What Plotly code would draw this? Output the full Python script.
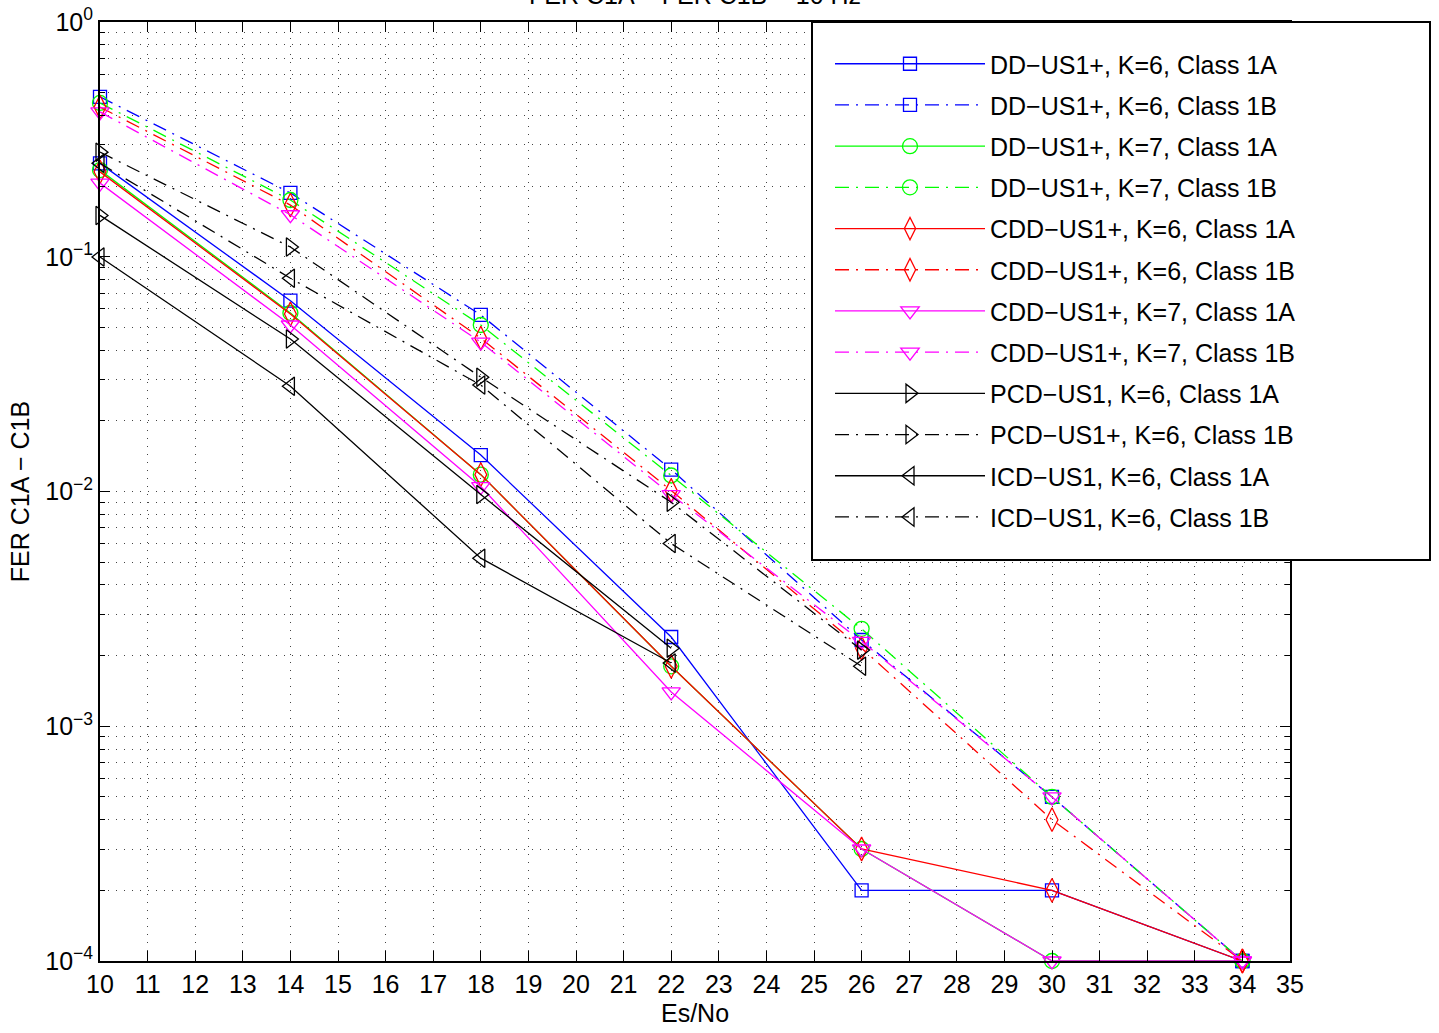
import plotly.graph_objects as go

# Es/No sample points (dB)
es_no_full = [10, 14, 18, 22, 26, 30, 34]
es_no_pcd_1a = [10, 14, 18, 22]
es_no_pcd_1b = [10, 14, 18, 22, 26]
es_no_icd_1a = [10, 14, 18, 22]
es_no_icd_1b = [10, 14, 18, 22, 26]

# FER values per receiver / class
dd_k6_1a = [0.25, 0.065, 0.0143, 0.0024, 0.0002, 0.0002, 0.0001]
dd_k6_1b = [0.48, 0.187, 0.0565, 0.0124, 0.00233, 0.0005, 0.0001]
dd_k7_1a = [0.234, 0.0576, 0.0118, 0.0018, 0.0003, 0.0001, 0.0001]
dd_k7_1b = [0.452, 0.1745, 0.0512, 0.0117, 0.0026, 0.0005, 0.0001]
cdd_k6_1a = [0.23, 0.057, 0.0118, 0.0018, 0.0003, 0.0002, 0.0001]
cdd_k6_1b = [0.434, 0.166, 0.045, 0.0101, 0.00215, 0.0004, 0.0001]
cdd_k7_1a = [0.206, 0.0512, 0.0105, 0.0014, 0.0003, 0.0001, 0.0001]
cdd_k7_1b = [0.414, 0.151, 0.0433, 0.0097, 0.0023, 0.0005, 0.0001]
pcd_k6_1a = [0.15, 0.0446, 0.0097, 0.00215]
pcd_k6_1b = [0.279, 0.110, 0.0307, 0.0090, 0.00211]
icd_k6_1a = [0.0998, 0.0281, 0.0052, 0.00186]
icd_k6_1b = [0.25, 0.081, 0.0284, 0.0060, 0.0018]

series_names = [
    "DD−US1+, K=6, Class 1A",
    "DD−US1+, K=6, Class 1B",
    "DD−US1+, K=7, Class 1A",
    "DD−US1+, K=7, Class 1B",
    "CDD−US1+, K=6, Class 1A",
    "CDD−US1+, K=6, Class 1B",
    "CDD−US1+, K=7, Class 1A",
    "CDD−US1+, K=7, Class 1B",
    "PCD−US1, K=6, Class 1A",
    "PCD−US1+, K=6, Class 1B",
    "ICD−US1, K=6, Class 1A",
    "ICD−US1, K=6, Class 1B",
]

y_tick_vals = [1e-4, 1e-3, 1e-2, 1e-1, 1]
y_tick_text = ["10<sup>−4</sup>", "10<sup>−3</sup>", "10<sup>−2</sup>", "10<sup>−1</sup>", "10<sup>0</sup>"]

FONT = "Liberation Sans, Arial, sans-serif"
DASHDOT = "14px,7px,2px,7px"

series = [
    (es_no_full, dd_k6_1a, "#0000ff", "solid", "square-open", 13),
    (es_no_full, dd_k6_1b, "#0000ff", DASHDOT, "square-open", 13),
    (es_no_full, dd_k7_1a, "#00ff00", "solid", "circle-open", 15),
    (es_no_full, dd_k7_1b, "#00ff00", DASHDOT, "circle-open", 15),
    (es_no_full, cdd_k6_1a, "#ff0000", "solid", "diamond-tall-open", 17),
    (es_no_full, cdd_k6_1b, "#ff0000", DASHDOT, "diamond-tall-open", 17),
    (es_no_full, cdd_k7_1a, "#ff00ff", "solid", "triangle-down-open", 16),
    (es_no_full, cdd_k7_1b, "#ff00ff", DASHDOT, "triangle-down-open", 16),
    (es_no_pcd_1a, pcd_k6_1a, "#000000", "solid", "triangle-right-open", 16),
    (es_no_pcd_1b, pcd_k6_1b, "#000000", DASHDOT, "triangle-right-open", 16),
    (es_no_icd_1a, icd_k6_1a, "#000000", "solid", "triangle-left-open", 16),
    (es_no_icd_1b, icd_k6_1b, "#000000", DASHDOT, "triangle-left-open", 16),
]

fig = go.Figure()
for i, (xs, ys, color, dash, symbol, size) in enumerate(series):
    fig.add_trace(go.Scatter(
        x=xs, y=ys, name=series_names[i], legendgroup=f"g{i}",
        mode="lines+markers",
        line=dict(color=color, width=1.3, dash=dash),
        marker=dict(symbol=symbol, size=size, color=color, line=dict(color=color, width=1.3)),
        cliponaxis=False,
    ))

grid_dash = "1px,7px"
grid_color = "#444444"

fig.update_layout(
    width=1439, height=1033,
    margin=dict(l=100, r=149, t=22, b=72, autoexpand=False),
    paper_bgcolor="white", plot_bgcolor="white",
    font=dict(family=FONT, size=25, color="black"),
    showlegend=True,
    legend=dict(
        x=(830 - 100) / 1190, y=1 - (41 - 22) / 939, xanchor="left", yanchor="top",
        bgcolor="rgba(0,0,0,0)", borderwidth=0,
        font=dict(family=FONT, size=25, color="black"),
        itemwidth=150, tracegroupgap=5.7,
    ),
    xaxis=dict(
        range=[10, 35], dtick=1, tick0=10, automargin=False,
        showline=True, linecolor="black", linewidth=2, mirror="ticks",
        ticks="inside", ticklen=10, tickwidth=1, tickcolor="black",
        showgrid=True, gridcolor=grid_color, griddash=grid_dash, gridwidth=1,
        zeroline=False,
        title=dict(text="Es/No", font=dict(size=25), standoff=7),
        tickfont=dict(size=25),
    ),
    yaxis=dict(
        type="log", range=[-4, 0], automargin=False,
        tickvals=y_tick_vals, ticktext=y_tick_text,
        showline=True, linecolor="black", linewidth=2, mirror="ticks",
        ticks="inside", ticklen=10, tickwidth=1, tickcolor="black",
        showgrid=True, gridcolor=grid_color, griddash=grid_dash, gridwidth=1,
        minor=dict(dtick="D1", ticks="inside", ticklen=5, tickcolor="black",
                   showgrid=True, gridcolor=grid_color, griddash=grid_dash, gridwidth=1),
        zeroline=False,
        title=dict(text="FER C1A − C1B", font=dict(size=25), standoff=8),
        tickfont=dict(size=25),
    ),
    shapes=[dict(
        type="rect", xref="paper", yref="paper",
        x0=(812 - 100) / 1190, x1=(1430 - 100) / 1190,
        y0=(961 - 560) / 939, y1=1.0,
        line=dict(color="black", width=2), fillcolor="white", layer="above",
    )],
    annotations=[dict(
        text="FER C1A − FER C1B − 10 Hz", xref="paper", yref="paper",
        x=0.5, y=(961 - 11) / 939, xanchor="center", yanchor="bottom",
        showarrow=False, font=dict(size=25),
    )],
)

fig.write_html("out.html")
